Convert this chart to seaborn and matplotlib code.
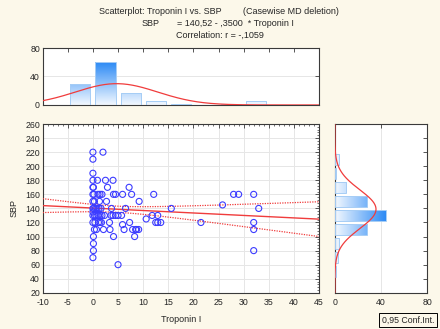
import numpy as np
import pandas as pd
import seaborn as sns
import matplotlib.pyplot as plt
from matplotlib.colors import LinearSegmentedColormap
from matplotlib.ticker import MultipleLocator

# scatter points (Troponin I, SBP)
troponin = [0, 2,
            0,
            0,
            0, 0.9, 2.5, 4,
            0, 0.1, 2.9, 7.2,
            0, 0.2, 1.0, 1.4, 1.8, 4.1, 4.5, 5.9, 7.7, 12.1, 28, 29, 32,
            0, 0.3, 1.3, 2.7, 9.2,
            25.8,
            0, 0.2, 0.5, 0.8, 1.2, 1.6, 3.7, 6.5, 15.6, 33,
            0,
            0, 0.3, 0.6, 1.0, 1.4, 1.8, 2.3, 3.6, 4.0, 4.5, 5.0, 5.7, 11.8, 12.9,
            10.6,
            0, 0.4, 1.1, 1.4, 1.7, 3.3, 7.3, 12.5, 12.9, 13.5, 21.5, 32,
            5.9,
            0.3, 0.7, 2.1, 3.4, 6.2, 7.9, 8.5, 8.7, 9.1, 32,
            0.1, 4.1, 8.3,
            0.1,
            0.1, 32,
            0,
            5]
sbp = [220, 220,
       210,
       190,
       180, 180, 180, 180,
       170, 170, 170, 170,
       160, 160, 160, 160, 160, 160, 160, 160, 160, 160, 160, 160, 160,
       150, 150, 150, 150, 150,
       145,
       140, 140, 140, 140, 140, 140, 140, 140, 140, 140,
       135,
       130, 130, 130, 130, 130, 130, 130, 130, 130, 130, 130, 130, 130, 130,
       125,
       120, 120, 120, 120, 120, 120, 120, 120, 120, 120, 120, 120,
       117,
       110, 110, 110, 110, 110, 110, 110, 110, 110, 110,
       100, 100, 100,
       90,
       80, 80,
       70,
       60]

# fit from the chart header: SBP = 140,52 - ,3500 * Troponin I
intercept = 140.52
slope = -0.35
n_cases = 123
trop_mean, trop_sd, trop_sxx = 4.7, 8.2, 6520
sbp_mean, sbp_sd = 138.9, 27.6
resid_sd = 24.6
t_crit = 1.98

# marginal histogram counts
trop_bins = [-5, 0, 5, 10, 15, 20, 25, 30]          # bins (a, a+5]
trop_counts = [30, 60, 17, 6, 1, 0, 2, 6]
sbp_bins = [40, 60, 80, 100, 120, 140, 160, 180, 200]  # bins (a, a+20]
sbp_counts = [1, 3, 4, 28, 44, 28, 10, 1, 4]

df = pd.DataFrame({'Troponin I': troponin, 'SBP': sbp})

sns.set_style('white')
plt.rcParams['font.family'] = ['Liberation Sans', 'DejaVu Sans']
plt.rcParams['font.size'] = 6
plt.rcParams['axes.unicode_minus'] = False

bg = '#FCF8EA'
frame = '#3a3a3a'
red = '#F03C3C'
blue = '#3C3CFF'
gridc = '#E6E6E6'

fig = plt.figure(figsize=(4.4, 3.29), dpi=100, facecolor=bg)
ax = fig.add_axes([0.097, 0.110, 0.628, 0.513])
ax_top = fig.add_axes([0.097, 0.681, 0.628, 0.173])
ax_right = fig.add_axes([0.761, 0.110, 0.2105, 0.513])

grad = LinearSegmentedColormap.from_list('grad', ['#F2F8FF', '#2E8BF5'])


def style(a):
    a.set_facecolor('white')
    for s in a.spines.values():
        s.set_color(frame)
        s.set_linewidth(0.8)
    a.tick_params(which='major', direction='in', length=3, width=0.6, color=frame,
                  top=True, right=True, labelsize=6.3, pad=2)
    a.tick_params(which='minor', direction='in', length=1.3, width=0.5, color=frame,
                  top=True, right=True)


def gradient_bars(a, bars, vmax, horizontal=False):
    for b in bars:
        x0, y0, w, h = b.get_x(), b.get_y(), b.get_width(), b.get_height()
        if w <= 0 or h <= 0:
            continue
        if horizontal:
            img = np.linspace(0, w / vmax, 64).reshape(1, -1)
        else:
            img = np.linspace(0, h / vmax, 64).reshape(-1, 1)
        im = a.imshow(img, cmap=grad, vmin=0, vmax=1, extent=[x0, x0 + w, y0, y0 + h],
                      origin='lower', aspect='auto', zorder=2, interpolation='bilinear')
        im.set_clip_path(b)


# main scatter
style(ax)
ax.tick_params(axis='x', which='major', pad=3.5)
ax.grid(True, color=gridc, lw=0.7, zorder=0)
xs = np.linspace(-10, 45, 200)
fit = intercept + slope * xs
half = t_crit * resid_sd * np.sqrt(1 / n_cases + (xs - trop_mean) ** 2 / trop_sxx)
sns.lineplot(x=xs, y=fit, ax=ax, color=red, lw=1.0, zorder=3)
ax.plot(xs, fit + half, color=red, lw=0.9, ls=(0, (1, 1)), zorder=3)
ax.plot(xs, fit - half, color=red, lw=0.9, ls=(0, (1, 1)), zorder=3)
sns.scatterplot(data=df, x='Troponin I', y='SBP', ax=ax, marker='o', s=19,
                facecolor='none', edgecolor=blue, linewidth=0.8, zorder=4)
ax.set_xlim(-10, 45)
ax.set_ylim(20, 260)
ax.xaxis.set_major_locator(MultipleLocator(5))
ax.yaxis.set_major_locator(MultipleLocator(20))
ax.xaxis.set_minor_locator(MultipleLocator(1))
ax.yaxis.set_minor_locator(MultipleLocator(4))
ax.set_xlabel('Troponin I', fontsize=6.5, labelpad=6)
ax.set_ylabel('SBP', fontsize=6.5, labelpad=5)

# top histogram
style(ax_top)
ax_top.grid(True, axis='y', color=gridc, lw=0.7, zorder=0)
centers = [b + 2.5 for b in trop_bins]
bars = ax_top.bar(centers, trop_counts, width=4.0, facecolor='none',
                  edgecolor='#A6CDF5', lw=0.7, zorder=3)
gradient_bars(ax_top, bars, max(trop_counts))
tx = np.linspace(-10, 45, 300)
tpdf = n_cases * 5 / (trop_sd * np.sqrt(2 * np.pi)) * np.exp(-0.5 * ((tx - trop_mean) / trop_sd) ** 2)
ax_top.plot(tx, tpdf, color=red, lw=0.9, zorder=4)
ax_top.set_xlim(-10, 45)
ax_top.set_ylim(0, 80)
ax_top.set_yticks([0, 40, 80])
ax_top.xaxis.set_major_locator(MultipleLocator(5))
ax_top.tick_params(labelbottom=False)

# right histogram
style(ax_right)
ax_right.tick_params(axis='x', which='major', pad=3.5)
ax_right.grid(True, axis='x', color=gridc, lw=0.7, zorder=0)
rcenters = [b + 10 for b in sbp_bins]
rbars = ax_right.barh(rcenters, sbp_counts, height=16, facecolor='none',
                      edgecolor='#A6CDF5', lw=0.7, zorder=3)
gradient_bars(ax_right, rbars, max(sbp_counts), horizontal=True)
sy = np.linspace(20, 260, 300)
spdf = n_cases * 20 / (sbp_sd * np.sqrt(2 * np.pi)) * np.exp(-0.5 * ((sy - sbp_mean) / sbp_sd) ** 2)
ax_right.plot(spdf, sy, color=red, lw=0.9, zorder=4)
ax_right.set_xlim(0, 80)
ax_right.set_ylim(20, 260)
ax_right.set_xticks([0, 40, 80])
ax_right.yaxis.set_major_locator(MultipleLocator(20))
ax_right.tick_params(labelleft=False)

# header text
W, H = 440, 329
fig.text(99 / W, 1 - 11 / H, 'Scatterplot: Troponin I vs. SBP', ha='left', va='center', fontsize=6.5)
fig.text(243 / W, 1 - 11 / H, '(Casewise MD deletion)', ha='left', va='center', fontsize=6.5)
fig.text(142 / W, 1 - 23.5 / H, 'SBP', ha='left', va='center', fontsize=6.5)
fig.text(177 / W, 1 - 23.5 / H, '= 140,52 - ,3500  * Troponin I', ha='left', va='center', fontsize=6.5)
fig.text(220 / W, 1 - 35 / H, 'Correlation: r = -,1059', ha='center', va='center', fontsize=6.5)

fig.text(408 / W, 1 - 320 / H, '0,95 Conf.Int.', ha='center', va='center', fontsize=6.3,
         bbox=dict(boxstyle='square,pad=0.3', facecolor=bg, edgecolor='black', lw=0.7))

fig.savefig('out.png', dpi=100, facecolor=bg)
